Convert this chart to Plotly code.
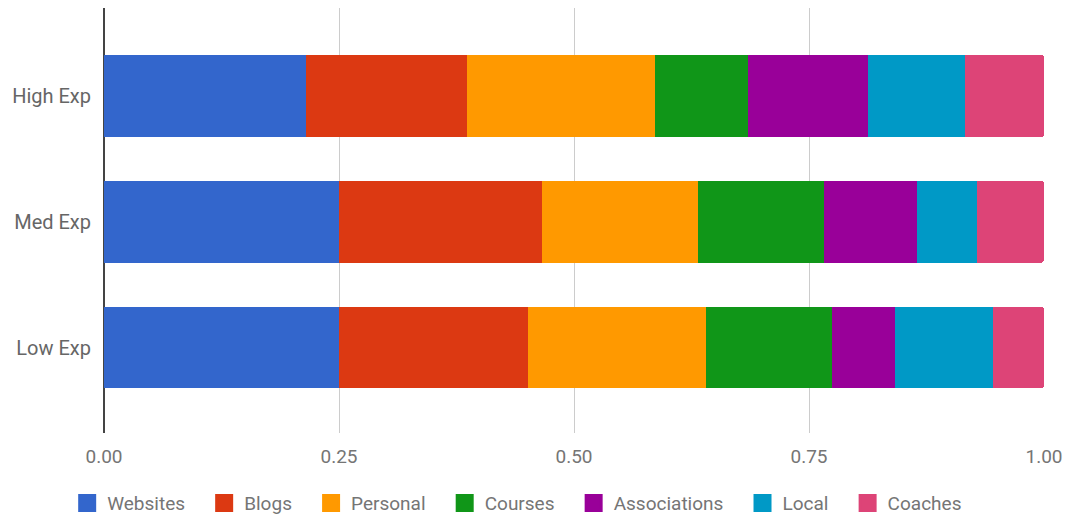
import plotly.graph_objects as go

# Share of each source by experience level (each row sums to 1)
groups = ["Low Exp", "Med Exp", "High Exp"]
sources = ["Websites", "Blogs", "Personal", "Courses", "Associations", "Local", "Coaches"]
colors = ["#3366cc", "#dc3912", "#ff9900", "#109618", "#990099", "#0099c6", "#dd4477"]

websites = [0.250, 0.250, 0.215]
blogs = [0.201, 0.216, 0.171]
personal = [0.189, 0.166, 0.200]
courses = [0.134, 0.134, 0.099]
associations = [0.068, 0.099, 0.128]
local = [0.104, 0.064, 0.103]
coaches = [0.054, 0.071, 0.084]

series = [websites, blogs, personal, courses, associations, local, coaches]
x_ticks = [0, 0.25, 0.5, 0.75, 1.0]
x_tick_text = ["0.00", "0.25", "0.50", "0.75", "1.00"]

font_family = "Roboto, Arial, sans-serif"
label_color = "#757575"

fig = go.Figure()
for name, vals, col in zip(sources, series, colors):
    fig.add_trace(go.Bar(
        y=groups, x=vals, name=name, orientation="h",
        marker=dict(color=col, line=dict(width=0)),
        width=0.65, showlegend=False,
    ))

# Legend entries with larger square swatches; trailing no-break spaces
# widen the gap between neighbouring entries
for name, col in zip(sources, colors):
    fig.add_trace(go.Scatter(
        x=[None], y=[None], mode="markers", name=name + "\u00a0\u00a0\u00a0",
        marker=dict(symbol="square", size=15, color=col,
                    line=dict(color=col, width=3)),
        showlegend=True,
    ))

fig.update_layout(
    barmode="stack",
    barcornerradius=3,
    width=1070, height=515,
    margin=dict(l=104, r=26, t=8, b=82, autoexpand=False),
    paper_bgcolor="white", plot_bgcolor="white",
    font=dict(family=font_family, size=19, color=label_color),
    legend=dict(
        orientation="h", xref="paper", x=0.447, xanchor="center",
        y=-0.165, yanchor="middle",
        font=dict(family=font_family, size=19, color=label_color),
        traceorder="normal",
    ),
)
fig.update_xaxes(
    range=[0, 1.0], tickvals=x_ticks, ticktext=x_tick_text,
    showgrid=True, gridcolor="#cccccc", gridwidth=1,
    zeroline=True, zerolinecolor="#444444", zerolinewidth=2,
    showline=False, ticks="", ticklabelstandoff=10,
    tickfont=dict(family=font_family, size=19, color=label_color),
)
fig.update_yaxes(
    type="category", categoryorder="array", categoryarray=groups,
    range=[-0.68, 2.70], showgrid=False, zeroline=False, showline=False,
    ticks="", ticklabelstandoff=12,
    tickfont=dict(family=font_family, size=20, color="#666666"),
)

fig.write_html("out.html")
